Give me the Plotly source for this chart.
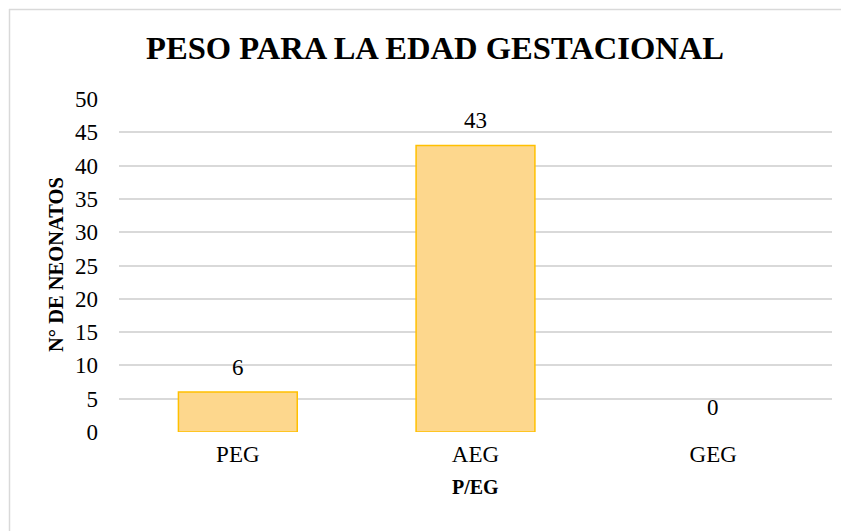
import plotly.graph_objects as go

categories = ["PEG", "AEG", "GEG"]
values = [6, 43, 0]
y_ticks = [0, 5, 10, 15, 20, 25, 30, 35, 40, 45, 50]

# page offset of 8px from body margin is accounted for
W, H = 841, 523
L, R, T, B = 111, 17, 91, 99
pw, ph = W - L - R, H - T - B
OFF = 8

def px(x):
    return (x - OFF - L) / pw

def py(y):
    return (H - B - (y - OFF)) / ph

serif = "Liberation Serif, Times New Roman, serif"

fig = go.Figure(go.Bar(
    x=categories, y=values,
    width=0.5,
    marker=dict(color="#FDD78D",
                line=dict(color="#FFC000", width=[1.5 if v else 0 for v in values])),
    hoverinfo="x+y",
))

annotations = [
    dict(x=c, y=v, xref="x", yref="y", text=str(v), showarrow=False,
         yanchor="middle", yshift=25, font=dict(family=serif, size=23, color="#000"))
    for c, v in zip(categories, values)
]
annotations += [
    dict(x=px(475.5), y=py(487), xref="paper", yref="paper", text="<b>P/EG</b>",
         showarrow=False, xanchor="center", yanchor="middle",
         font=dict(family=serif, size=20, color="#000")),
    dict(x=px(56), y=py(265), xref="paper", yref="paper", text="<b>N° DE NEONATOS</b>",
         showarrow=False, xanchor="center", yanchor="middle", textangle=-90,
         font=dict(family=serif, size=20.5, color="#000")),
    dict(x=px(435), y=py(48), xref="paper", yref="paper",
         text="<b>PESO PARA LA EDAD GESTACIONAL</b>",
         showarrow=False, xanchor="center", yanchor="middle",
         font=dict(family=serif, size=32.6, color="#000")),
]

fig.update_layout(
    width=W, height=H,
    margin=dict(l=L, r=R, t=T, b=B),
    paper_bgcolor="white", plot_bgcolor="white",
    showlegend=False,
    font=dict(family=serif, color="#000"),
    annotations=annotations,
    shapes=[
        dict(type="line", xref="paper", yref="paper",
             x0=px(9), x1=px(W + 20), y0=py(9.5), y1=py(9.5),
             line=dict(color="#D9D9D9", width=1.5)),
        dict(type="line", xref="paper", yref="paper",
             x0=px(9.5), x1=px(9.5), y0=py(9), y1=py(H + 20),
             line=dict(color="#D9D9D9", width=1.5)),
    ],
)

fig.update_xaxes(
    showgrid=False, showline=False, zeroline=False,
    tickfont=dict(family=serif, size=23, color="#000"),
    ticklabelstandoff=6,
)
fig.update_yaxes(
    range=[0, 50], tickvals=y_ticks,
    showgrid=True, gridcolor="#D9D9D9", gridwidth=1.5,
    zeroline=False, showline=False,
    tickfont=dict(family=serif, size=23, color="#000"),
    ticklabelstandoff=20,
)

fig.write_html("out.html")
